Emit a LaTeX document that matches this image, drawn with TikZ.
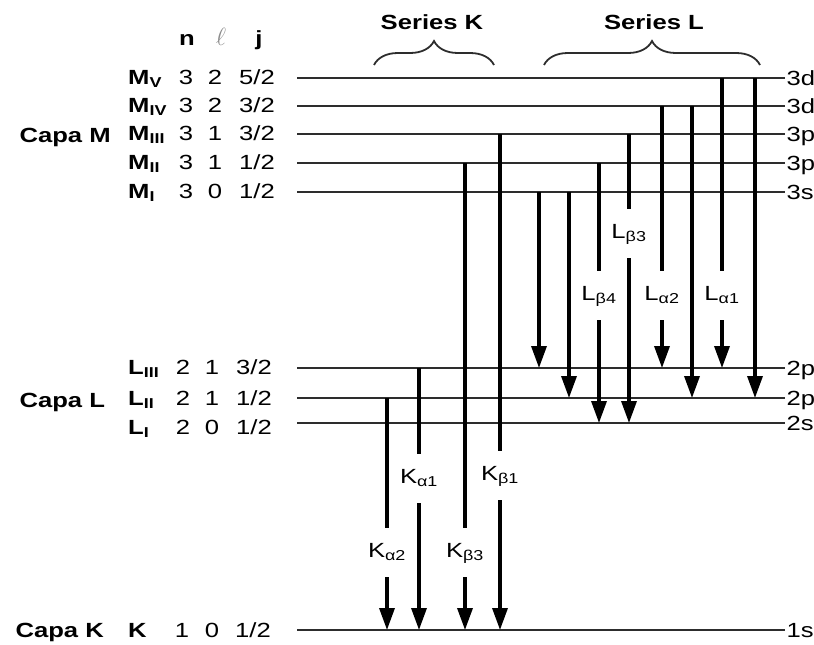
\documentclass[tikz,border=0pt]{standalone}
\usepackage{fontspec}
\setmainfont{Liberation Sans}[FakeStretch=1.25]
\usetikzlibrary{arrows.meta,decorations.pathreplacing}
\definecolor{levelGray}{RGB}{45, 45, 45}
\definecolor{ellGray}  {RGB}{140,140,140}
\tikzset{
  lvl/.style={draw=levelGray,line width=1.8pt},
  ray/.style={line width=3.4pt},
  rayhead/.style={ray,-{Triangle[length=22pt,width=15pt]}},
  rlab/.style={anchor=base,inner xsep=1pt,inner ysep=14pt,text height=15pt,text depth=6pt},
  bf/.style={font=\fontsize{20.5}{24}\selectfont\bfseries},
}

\begin{document}
\begin{tikzpicture}[x=1pt,y=-1pt,every node/.style={font=\fontsize{20.5}{24}\selectfont}]
  \useasboundingbox (0,0) rectangle (814,645);

  % niveles de energia
  \foreach \nm/\y/\orb in {MV/78/3d, MIV/106/3d, MIII/134/3p, MII/163/3p, MI/192/3s,
                           LIII/368/2p, LII/398/2p, LI/423/2s, K/630/1s}{
    \coordinate (\nm-a) at (297,\y);
    \node[anchor=base west,inner sep=1.5pt] (\nm-o) at (785,\y+7) {\orb};
    \draw[lvl] (\nm-a) -- (\nm-a -| \nm-o.west);
  }

  % cabecera de la tabla
  \node[bf,anchor=base] (hn) at (187,45) {n};
  \node[anchor=base,ellGray,font=\fontsize{25}{28}\selectfont] (hl) at (221,45) {$\ell$};
  \node[bf,anchor=base] (hj) at (259,45) {j};

  % capa M
  \node[bf,anchor=base west] (capaM) at (16,142) {Capa M};
  \foreach \nm/\sub/\bl/\l/\j in {MV/V/84/2/{5/2}, MIV/IV/112/2/{3/2}, MIII/III/140/1/{3/2},
                                  MII/II/169/1/{1/2}, MI/I/198/0/{1/2}}{
    \node[bf,anchor=base west,inner sep=0pt] (\nm-lab) at (128,\bl) {M\textsubscript{\sub}};
    \node[anchor=base] (\nm-n) at (186,\bl) {3};
    \node[anchor=base] (\nm-l) at (215,\bl) {\l};
    \node[anchor=base] (\nm-j) at (257,\bl) {\j};
  }

  % capa L
  \node[bf,anchor=base west] (capaL) at (16,407) {Capa L};
  \foreach \nm/\sub/\bl/\l/\j in {LIII/III/374/1/{3/2}, LII/II/405/1/{1/2}, LI/I/434/0/{1/2}}{
    \node[bf,anchor=base west,inner sep=0pt] (\nm-lab) at (128,\bl) {L\textsubscript{\sub}};
    \node[anchor=base] (\nm-n) at (183,\bl) {2};
    \node[anchor=base] (\nm-l) at (212,\bl) {\l};
    \node[anchor=base] (\nm-j) at (254,\bl) {\j};
  }

  % capa K
  \node[bf,anchor=base west] (capaK) at (12,637) {Capa K};
  \node[bf,anchor=base west,inner sep=0pt] (K-lab) at (128,637) {K};
  \node[anchor=base] (K-n) at (182,637) {1};
  \node[anchor=base] (K-l) at (212,637) {0};
  \node[anchor=base] (K-j) at (253,637) {1/2};

  % series K
  \node[bf] (serK) at (432,22) {Series K};
  \coordinate (bK-a) at (374,65);
  \coordinate (bK-b) at (494,65);
  \draw[levelGray,line width=1.8pt,decorate,decoration={brace,amplitude=24pt}] (bK-a) -- (bK-b);
  \foreach \nm/\x/\from/\bl/\txt in {Ka2/387/LII/557/α2, Ka1/419/LIII/483/α1,
                                     Kb3/465/MII/557/β3, Kb1/500/MIII/480/β1}{
    \node[rlab] (\nm) at (\x,\bl) {K\textsubscript{\txt}};
    \draw[ray] (\nm.north |- \from-a) -- (\nm.north);
    \draw[rayhead] (\nm.south) -- (\nm.south |- K-a);
  }

  % series L
  \node[bf] (serL) at (654,22) {Series L};
  \coordinate (bL-a) at (544,65);
  \coordinate (bL-b) at (760,65);
  \draw[levelGray,line width=1.8pt,decorate,decoration={brace,amplitude=24pt}] (bL-a) -- (bL-b);
  \foreach \nm/\x/\from/\to/\bl/\txt in {Lb4/599/MII/LI/300/β4, Lb3/629/MIII/LI/238/β3,
                                         La2/662/MIV/LIII/300/α2, La1/722/MV/LIII/300/α1}{
    \node[rlab] (\nm) at (\x,\bl) {L\textsubscript{\txt}};
    \draw[ray] (\nm.north |- \from-a) -- (\nm.north);
    \draw[rayhead] (\nm.south) -- (\nm.south |- \to-a);
  }
  \foreach \x/\from/\to in {539/MI/LIII, 569/MI/LII, 692/MIV/LII, 755/MV/LII}{
    \draw[rayhead] (\x,0 |- \from-a) -- (\x,0 |- \to-a);
  }
\end{tikzpicture}
\end{document}
